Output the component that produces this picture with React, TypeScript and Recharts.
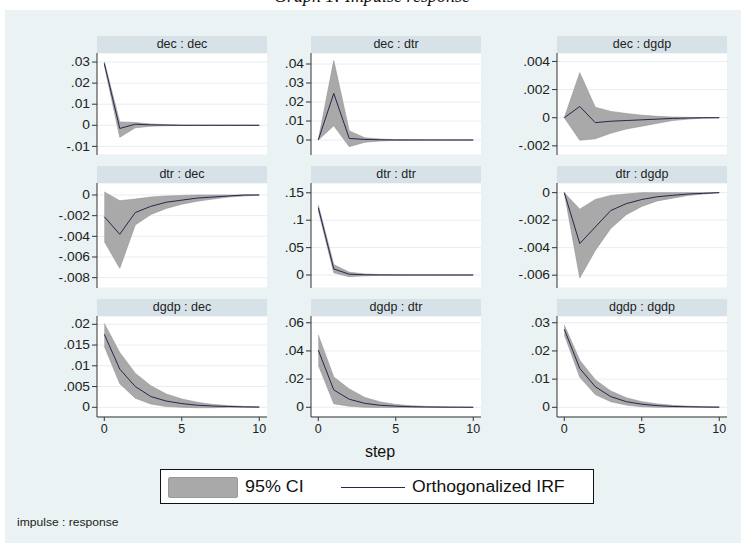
import React from "react";
import { ComposedChart, Area, Line, XAxis, YAxis, CartesianGrid } from "recharts";

const steps = [0, 1, 2, 3, 4, 5, 6, 7, 8, 9, 10];
const xTicks = [0, 5, 10];

// dec : dec
const decDecIrf = [0.0294, -0.0015, 0.0005, 0.0002, 0.0001, 0, 0, 0, 0, 0, 0];
const decDecLo = [0.0285, -0.0057, -0.0012, -0.0004, -0.0002, -0.0001, 0, 0, 0, 0, 0];
const decDecHi = [0.0302, 0.0016, 0.0013, 0.0006, 0.0003, 0.0001, 0, 0, 0, 0, 0];
const decDecTicks = [-0.01, 0, 0.01, 0.02, 0.03];

// dec : dtr
const decDtrIrf = [0, 0.0245, 0.0008, 0.0003, 0.0001, 0, 0, 0, 0, 0, 0];
const decDtrLo = [0, 0.0075, -0.0035, -0.0012, -0.0005, -0.0002, -0.0001, 0, 0, 0, 0];
const decDtrHi = [0, 0.0418, 0.0048, 0.0012, 0.0005, 0.0002, 0.0001, 0, 0, 0, 0];
const decDtrTicks = [0, 0.01, 0.02, 0.03, 0.04];

// dec : dgdp
const decDgdpIrf = [0, 0.0008, -0.00035, -0.00025, -0.0002, -0.00015, -0.0001, -0.00005, -0.00002, 0, 0];
const decDgdpLo = [0, -0.0016, -0.0015, -0.0011, -0.0008, -0.0006, -0.0004, -0.0002, -0.0001, -0.00003, 0];
const decDgdpHi = [0, 0.0032, 0.00075, 0.00045, 0.0003, 0.00018, 0.0001, 0.00005, 0.00002, 0, 0];
const decDgdpTicks = [-0.002, 0, 0.002, 0.004];

// dtr : dec
const dtrDecIrf = [-0.0021, -0.0038, -0.0017, -0.0011, -0.0007, -0.0005, -0.0003, -0.0002, -0.0001, 0, 0];
const dtrDecLo = [-0.0045, -0.0071, -0.0029, -0.0019, -0.0013, -0.0009, -0.0006, -0.0004, -0.0002, -0.0001, 0];
const dtrDecHi = [0.0003, -0.00055, -0.0004, -0.0002, -0.0001, -0.00005, 0, 0, 0, 0, 0];
const dtrDecTicks = [-0.008, -0.006, -0.004, -0.002, 0];

// dtr : dtr
const dtrDtrIrf = [0.123, 0.011, 0.0015, 0.0004, 0.0001, 0, 0, 0, 0, 0, 0];
const dtrDtrLo = [0.118, 0.004, -0.003, -0.0015, -0.0005, -0.0002, 0, 0, 0, 0, 0];
const dtrDtrHi = [0.128, 0.019, 0.005, 0.002, 0.0008, 0.0003, 0.0001, 0, 0, 0, 0];
const dtrDtrTicks = [0, 0.05, 0.1, 0.15];

// dtr : dgdp
const dtrDgdpIrf = [0, -0.0037, -0.0025, -0.0013, -0.0008, -0.0005, -0.0003, -0.0002, -0.0001, -0.00005, 0];
const dtrDgdpLo = [0, -0.0062, -0.0042, -0.0026, -0.0016, -0.001, -0.0006, -0.0004, -0.0002, -0.0001, 0];
const dtrDgdpHi = [0, -0.0012, -0.0005, -0.0002, -0.0001, 0, 0, 0, 0, 0, 0];
const dtrDgdpTicks = [-0.006, -0.004, -0.002, 0];

// dgdp : dec
const dgdpDecIrf = [0.0176, 0.0092, 0.005, 0.0026, 0.0015, 0.0009, 0.0005, 0.0003, 0.0002, 0.0001, 0.00005];
const dgdpDecLo = [0.0147, 0.0057, 0.0022, 0.0008, 0.0002, 0, -0.0001, -0.0001, 0, 0, 0];
const dgdpDecHi = [0.0202, 0.0132, 0.0082, 0.0052, 0.0032, 0.002, 0.0012, 0.0007, 0.0004, 0.0002, 0.0001];
const dgdpDecTicks = [0, 0.005, 0.01, 0.015, 0.02];

// dgdp : dtr
const dgdpDtrIrf = [0.0406, 0.0123, 0.0057, 0.0028, 0.0014, 0.0008, 0.0004, 0.0002, 0.0001, 0.00005, 0];
const dgdpDtrLo = [0.03, 0.0025, 0.0008, 0, -0.0002, -0.0002, -0.0001, 0, 0, 0, 0];
const dgdpDtrHi = [0.0513, 0.0215, 0.013, 0.007, 0.0038, 0.002, 0.0011, 0.0006, 0.0003, 0.0001, 0];
const dgdpDtrTicks = [0, 0.02, 0.04, 0.06];

// dgdp : dgdp
const dgdpDgdpIrf = [0.0277, 0.0138, 0.0073, 0.0038, 0.002, 0.0011, 0.0006, 0.0003, 0.0002, 0.0001, 0.00005];
const dgdpDgdpLo = [0.0258, 0.0107, 0.0045, 0.002, 0.0008, 0.0002, 0, 0, 0, 0, 0];
const dgdpDgdpHi = [0.0292, 0.0167, 0.0098, 0.0058, 0.0034, 0.002, 0.0012, 0.0007, 0.0004, 0.0002, 0.0001];
const dgdpDgdpTicks = [0, 0.01, 0.02, 0.03];

const BG = "#eaf2f3";
const HEADER = "#d6e2e8";
const BAND = "#a9a9a9";
const IRF = "#26264f";
const AXIS = "#333";
const FONT = "'Liberation Sans', Arial, sans-serif";
const AXIS_W = 60;
const PLOT_W = 170;
const X_DOMAIN = [-0.47, 10.5];

const fmt = (v: number) => (v === 0 ? "0" : String(v).replace("0.", "."));

const colLeft = [97, 311, 557];
const rowTop = [53, 183, 316];
const rowH = [102, 105, 101];

const panels = [
  { title: "dec : dec", irf: decDecIrf, lo: decDecLo, hi: decDecHi, ticks: decDecTicks, domain: [-0.0141, 0.0343] },
  { title: "dec : dtr", irf: decDtrIrf, lo: decDtrLo, hi: decDtrHi, ticks: decDtrTicks, domain: [-0.0079, 0.0458] },
  { title: "dec : dgdp", irf: decDgdpIrf, lo: decDgdpLo, hi: decDgdpHi, ticks: decDgdpTicks, domain: [-0.00265, 0.0046] },
  { title: "dtr : dec", irf: dtrDecIrf, lo: dtrDecLo, hi: dtrDecHi, ticks: dtrDecTicks, domain: [-0.009, 0.00116] },
  { title: "dtr : dtr", irf: dtrDtrIrf, lo: dtrDtrLo, hi: dtrDtrHi, ticks: dtrDtrTicks, domain: [-0.0237, 0.1679] },
  { title: "dtr : dgdp", irf: dtrDgdpIrf, lo: dtrDgdpLo, hi: dtrDgdpHi, ticks: dtrDgdpTicks, domain: [-0.00693, 0.0007] },
  { title: "dgdp : dec", irf: dgdpDecIrf, lo: dgdpDecLo, hi: dgdpDecHi, ticks: dgdpDecTicks, domain: [-0.00234, 0.022] },
  { title: "dgdp : dtr", irf: dgdpDtrIrf, lo: dgdpDtrLo, hi: dgdpDtrHi, ticks: dgdpDtrTicks, domain: [-0.0069, 0.0648] },
  { title: "dgdp : dgdp", irf: dgdpDgdpIrf, lo: dgdpDgdpLo, hi: dgdpDgdpHi, ticks: dgdpDgdpTicks, domain: [-0.00344, 0.0324] },
];

const YTick = (props: any) => {
  const { x, y, payload } = props;
  return (
    <text
      x={x}
      y={y}
      dy="0.35em"
      textAnchor="end"
      fontSize={12}
      fill="#222"
      fontFamily={FONT}
      transform={`translate(${x},0) scale(1.15,1) translate(${-x},0)`}
    >
      {fmt(payload.value)}
    </text>
  );
};

function Panel({ spec, left, top, height, showX }: any) {
  const data = steps.map((s, i) => ({ step: s, irf: spec.irf[i], band: [spec.lo[i], spec.hi[i]] }));
  const xH = showX ? 26 : 0;
  return (
    <>
      <div
        style={{
          position: "absolute",
          left,
          top: top - 17,
          width: PLOT_W,
          height: 17,
          background: HEADER,
          fontSize: 12.5,
          lineHeight: "17px",
          textAlign: "center",
          color: "#222",
        }}
      >
        {spec.title}
      </div>
      <div style={{ position: "absolute", left: left - AXIS_W, top }}>
        <ComposedChart width={AXIS_W + PLOT_W} height={height + xH} data={data} margin={{ top: 0, right: 0, bottom: 0, left: 0 }}>
          <CartesianGrid vertical={false} stroke="#e6eef0" fill="#fff" />
          <XAxis
            dataKey="step"
            type="number"
            domain={X_DOMAIN}
            ticks={xTicks}
            hide={!showX}
            height={xH}
            allowDataOverflow
            tickSize={4}
            tickMargin={3}
            axisLine={{ stroke: AXIS }}
            tickLine={{ stroke: AXIS }}
            tick={{ fontSize: 12.5, fill: "#222", fontFamily: FONT }}
          />
          <YAxis
            type="number"
            domain={spec.domain}
            ticks={spec.ticks}
            interval={0}
            allowDataOverflow
            width={AXIS_W}
            tickSize={5}
            tickMargin={2}
            axisLine={{ stroke: AXIS }}
            tickLine={{ stroke: AXIS }}
            tick={(p: any) => <YTick {...p} />}
          />
          <Area
            dataKey="band"
            type="linear"
            stroke="#939393"
            strokeWidth={0.6}
            fill={BAND}
            fillOpacity={1}
            isAnimationActive={false}
          />
          <Line dataKey="irf" type="linear" stroke={IRF} strokeWidth={1} dot={false} isAnimationActive={false} />
        </ComposedChart>
      </div>
    </>
  );
}

export default function App() {
  return (
    <div
      style={{
        position: "absolute",
        left: 0,
        top: 0,
        width: 741,
        height: 543,
        overflow: "hidden",
        background: "#fff",
        fontFamily: FONT,
      }}
    >
      <svg width={741} height={10} style={{ position: "absolute", left: 0, top: 0 }}>
        <text x={372} y={2} textAnchor="middle" fontSize={18} fontStyle="italic" fontFamily="'Liberation Serif', 'Times New Roman', serif" fill="#111">
          Graph 1: Impulse response
        </text>
      </svg>
      <div style={{ position: "absolute", left: 5, top: 10, right: 0, bottom: 0, background: BG }} />
      {panels.map((p, i) => (
        <Panel
          key={p.title}
          spec={p}
          left={colLeft[i % 3]}
          top={rowTop[Math.floor(i / 3)]}
          height={rowH[Math.floor(i / 3)]}
          showX={i >= 6}
        />
      ))}
      <div
        style={{
          position: "absolute",
          left: 330,
          width: 100,
          top: 443,
          textAlign: "center",
          fontSize: 16,
          color: "#111",
        }}
      >
        step
      </div>
      <div
        style={{
          position: "absolute",
          left: 160,
          top: 469,
          width: 434,
          height: 35,
          boxSizing: "border-box",
          border: "1px solid #111",
          background: "#fff",
        }}
      >
        <div style={{ position: "absolute", left: 7, top: 7, width: 68, height: 19, background: BAND, border: "1px solid #999", borderRadius: 2 }} />
        <div style={{ position: "absolute", left: 84, top: 6, fontSize: 16, lineHeight: "21px", color: "#111", transform: "scaleX(1.12)", transformOrigin: "left" }}>
          95% CI
        </div>
        <div style={{ position: "absolute", left: 180, top: 17, width: 64, height: 1.3, background: IRF }} />
        <div style={{ position: "absolute", left: 251, top: 6, fontSize: 16, lineHeight: "21px", color: "#111", transform: "scaleX(1.1)", transformOrigin: "left" }}>
          Orthogonalized IRF
        </div>
      </div>
      <div style={{ position: "absolute", left: 17, top: 516, fontSize: 11, color: "#222", transform: "scaleX(1.1)", transformOrigin: "left" }}>
        impulse : response
      </div>
    </div>
  );
}
